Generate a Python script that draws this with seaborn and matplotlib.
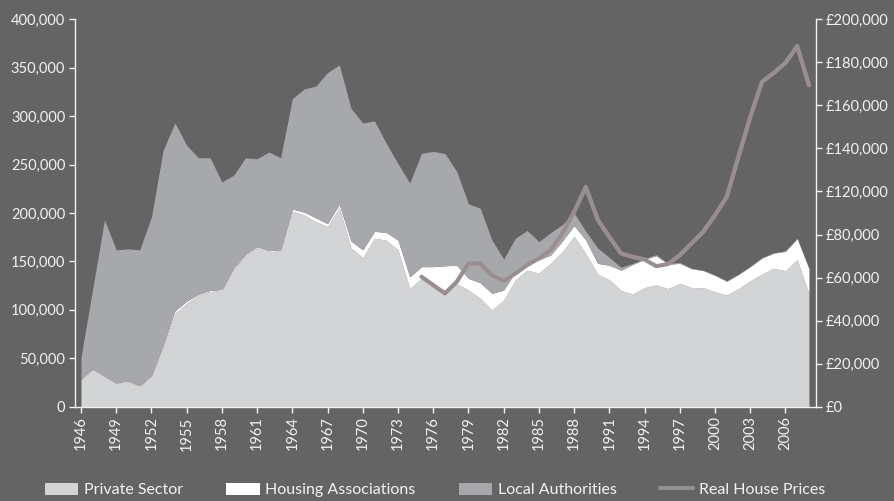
import numpy as np
import pandas as pd
import seaborn as sns
import matplotlib.pyplot as plt
from matplotlib.patches import Patch
from matplotlib.lines import Line2D
from matplotlib.ticker import FuncFormatter

# --- data (thousands of completions per year) ---
years = list(range(1946, 2009))
private_sector = [28, 38.6, 31, 24, 25.8, 20.7, 31, 61, 96, 107,
                  115, 119, 120, 142, 156, 164, 160, 161, 202, 198,
                  191, 186, 205.5, 164, 154, 174, 172, 162, 122, 132.6,
                  127, 120.5, 127, 120.5, 112, 100, 110, 131, 141, 138,
                  148, 160, 176, 158, 137, 131, 120, 116.4, 123, 125.7,
                  122, 127.4, 123, 123, 118.7, 115.3, 122, 130, 137, 143,
                  140.4, 152, 117]
housing_associations = [0.5, 0.4, 0.5, 0.5, 0.7, 0.8, 1, 2, 3, 2,
                        1, 1, 1, 1, 1, 1, 1, 1, 2, 3,
                        4, 3, 3.5, 7, 8, 7, 8, 10, 12, 12,
                        17.6, 25, 19, 12, 16, 17, 10.5, 8, 7, 13.5,
                        8.6, 11, 11, 14, 11, 15, 21, 30.6, 29, 30.3,
                        25, 20.6, 19.5, 17.5, 16.8, 14.2, 14.5, 14.5, 16.5, 15.5,
                        20.1, 21.5, 25.5]
local_authorities = [22.5, 83, 161.5, 137.5, 136.5, 140.5, 164, 202, 194, 161,
                     141, 137, 111, 96, 100, 91, 102, 95, 114, 127,
                     136, 156, 144, 137, 131, 114, 92, 79, 97, 117,
                     119, 116, 97, 77, 77, 55, 32, 35, 34, 19,
                     23, 17, 13, 9, 16, 8, 3, 1, 1, 1,
                     1, 1, 0.5, 0.5, 0.5, 0.5, 0.5, 0.5, 0.5, 0.5,
                     0.5, 0.5, 0.5]

# real house prices, right axis
price_years = list(range(1975, 2009))
real_house_prices = [60.4, 56.5, 52.6, 58, 66.6, 66.6, 61.1, 58.5, 61.9, 65.8,
                     68.9, 72.8, 80.5, 90.5, 102.1, 87, 78.9, 71.2, 69.6, 68.4,
                     65.3, 66.3, 70.4, 75.9, 81.3, 89, 97.5, 116.1, 134.6, 150.9,
                     155.1, 159.7, 167.5, 149.4]

right_labels = ["£0", "£20,000", "£40,000", "£60,000", "£80,000",
                "£120,000", "£140,000", "£160,000", "£180,000", "£200,000"]

df = pd.DataFrame({"year": years,
                   "private": np.array(private_sector) * 1000,
                   "ha": np.array(housing_associations) * 1000,
                   "la": np.array(local_authorities) * 1000})
prices = pd.DataFrame({"year": price_years,
                       "price": np.array(real_house_prices) * 1000})

# --- style ---
bg = "#646464"
txt = "#f2f2f2"
c_private = "#d3d4d6"
c_ha = "#ffffff"
c_la = "#a7a8ab"
c_line = "#939091"
c_edge = "#b48e90"

sns.set_style("dark", {"axes.facecolor": bg, "figure.facecolor": bg})
plt.rcParams['font.family'] = ['Lato', 'DejaVu Sans']

fig = plt.figure(figsize=(8.95, 5.01), dpi=100)
ax = fig.add_axes([0.0838, 0.1882, 0.8279, 0.7733])

ax.stackplot(df["year"], df["private"], df["ha"], df["la"],
             colors=[c_private, c_ha, c_la], linewidth=0)

ax.set_xlim(1945.49, 2008.6)
ax.set_ylim(0, 400000)
ax.set_yticks(np.arange(0, 400001, 50000))
ax.yaxis.set_major_formatter(FuncFormatter(lambda v, p: f"{v:,.0f}"))
ax.set_xticks(range(1946, 2007, 3))
ax.tick_params(axis="x", rotation=90)
ax.tick_params(bottom=True, left=True, colors=txt, labelcolor=txt,
               direction="out", length=4, width=1, labelsize=10.5, pad=3)
ax.grid(False)

ax2 = ax.twinx()
sns.lineplot(data=prices, x="year", y="price", ax=ax2, color=c_edge, linewidth=3.0)
sns.lineplot(data=prices, x="year", y="price", ax=ax2, color=c_line, linewidth=2.3)
ax2.set_ylim(0, 180000)
ax2.set_yticks(np.arange(0, 180001, 20000))
ax2.set_yticklabels(right_labels)
ax2.set_ylabel("")
ax2.tick_params(right=True, colors=txt, labelcolor=txt, direction="out",
                length=4, width=1, labelsize=10.5, pad=3)
ax2.grid(False)
ax.set_xlabel("")
ax.set_ylabel("")

for a in (ax, ax2):
    for s in a.spines.values():
        s.set_visible(False)
ax.spines["left"].set_visible(True)
ax.spines["bottom"].set_visible(True)
ax2.spines["right"].set_visible(True)
for s in (ax.spines["left"], ax.spines["bottom"], ax2.spines["right"]):
    s.set_color(txt)
    s.set_linewidth(1)

handles = [Patch(facecolor=c_private, edgecolor="none"),
           Patch(facecolor=c_ha, edgecolor="none"),
           Patch(facecolor=c_la, edgecolor="none"),
           Line2D([0], [0], color=c_line, linewidth=3)]
labels = ["Private Sector", "Housing Associations", "Local Authorities", "Real House Prices"]
fig.legend(handles, labels, loc="center", bbox_to_anchor=(0.486, 0.022), ncol=4,
           frameon=False, fontsize=11.5, labelcolor=txt, handlelength=2.1,
           handleheight=0.8, handletextpad=0.35, columnspacing=2.7)

fig.savefig("out.png", dpi=100, facecolor=bg)
